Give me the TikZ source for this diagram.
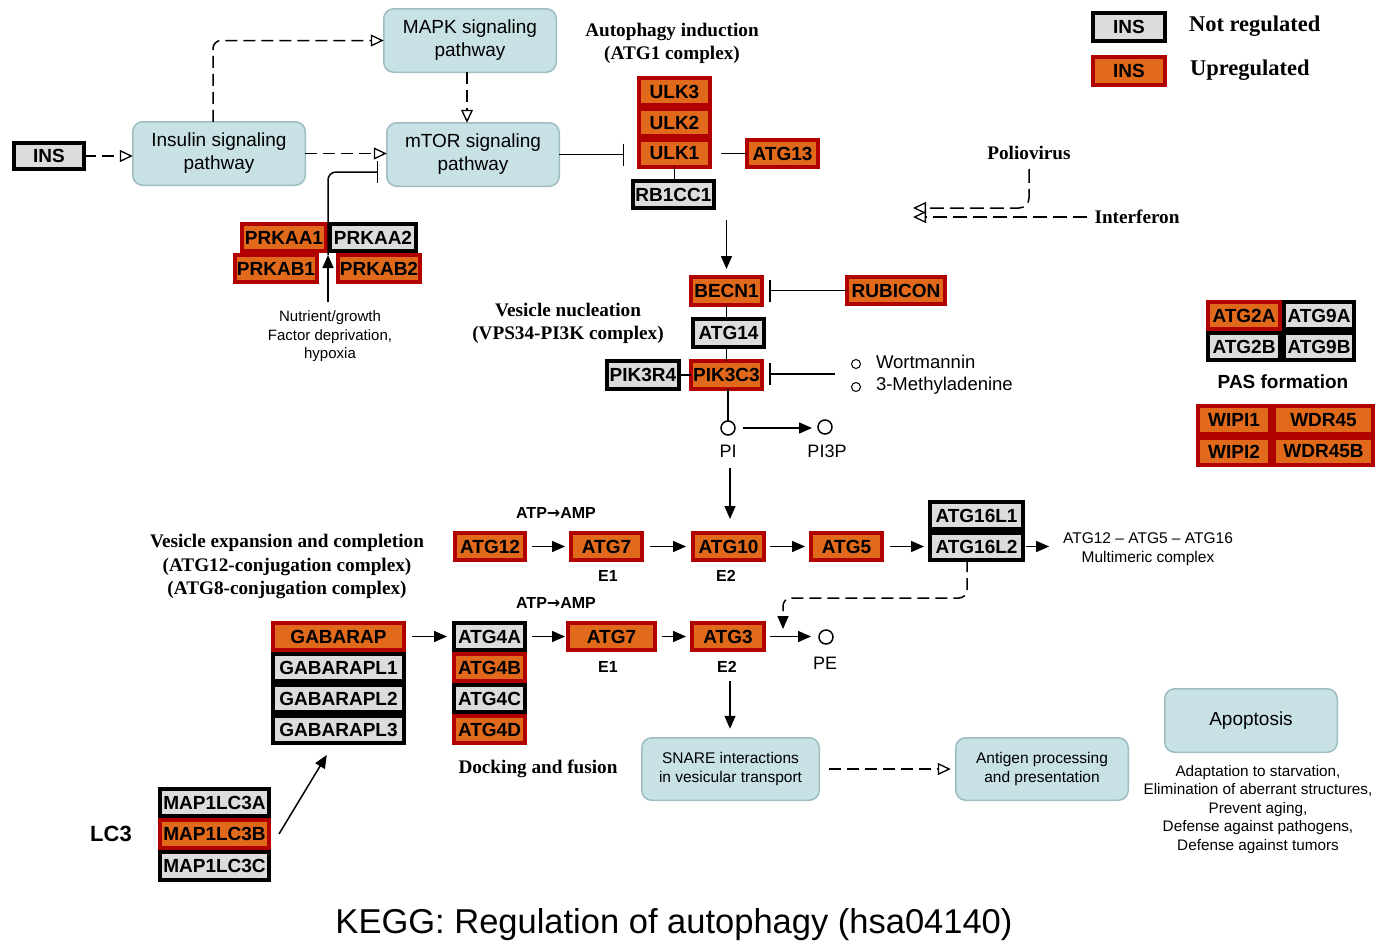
\documentclass[tikz,border=0pt]{standalone}
\usepackage{fontspec}
\setmainfont{Liberation Sans}
\newfontfamily\serbf{Liberation Serif}
\newfontfamily\dvs{DejaVu Sans}
\usetikzlibrary{arrows.meta}
\definecolor{upfill}{HTML}{E0691B}
\definecolor{updraw}{HTML}{B00000}
\definecolor{nrfill}{HTML}{DCDCDC}
\definecolor{pwfill}{HTML}{C8E1E5}
\definecolor{pwdraw}{HTML}{9DBDC2}
\newcommand\genebox[7]{\node[#1, minimum width={#5-#3-4}, minimum height={#6-#4-4}] (#2) at ({(#3+#5)/2},{(#4+#6)/2}) {#7};}
\tikzset{
  gene/.style={rectangle, inner sep=0pt, outer sep=0pt, line width=4pt, font=\bfseries\fontsize{19}{20}\selectfont},
  up/.style={gene, fill=upfill, draw=updraw},
  nr/.style={gene, fill=nrfill, draw=black},
  pw/.style={rectangle, rounded corners=10pt, fill=pwfill, draw=pwdraw, line width=1.5pt, align=center, inner sep=0pt, outer sep=0pt, font=\fontsize{19}{23}\selectfont},
  txt/.style={inner sep=0pt, outer sep=0pt, align=center},
  sertxt/.style={txt, font=\serbf\bfseries\fontsize{19.2}{23.5}\selectfont},
  ln/.style={line width=1.5pt},
  dsh/.style={dash pattern=on 12pt off 6pt},
  arr/.style={ln, -{Triangle[length=13pt,width=11pt]}},
  oarr/.style={ln, dsh, -{Triangle[open,length=13pt,width=12pt,line width=1.3pt]}},
  inh/.style={ln, -{Bar[width=22pt,line width=1.5pt]}},
  mol/.style={circle, draw, line width=1.5pt, minimum size=14pt, inner sep=0pt, outer sep=0pt},
  smallmol/.style={circle, draw, line width=1pt, minimum size=9pt, inner sep=0pt},
}
\newcommand\toarr{{\dvs\bfseries →}}
\begin{document}
\begin{tikzpicture}[x=1pt,y=-1pt]
\useasboundingbox (0,0) rectangle (1384,943);
\fill[white] (0,0) rectangle (1384,943);

% pathway boxes
\node[pw, minimum width=172.5, minimum height=63.5] (insulin) at (219,153.5) {Insulin signaling\\pathway};
\node[pw, minimum width=172.5, minimum height=63.5] (mapk) at (470,40.5) {MAPK signaling\\pathway};
\node[pw, minimum width=172.5, minimum height=63.5] (mtor) at (473,154.5) {mTOR signaling\\pathway};
\node[pw, minimum width=177.5, minimum height=62.5, font=\fontsize{15.5}{19}\selectfont] (snare) at (730.5,769) {SNARE interactions\\in vesicular transport};
\node[pw, minimum width=172.5, minimum height=62.5, font=\fontsize{15.5}{19}\selectfont] (antigen) at (1042,769) {Antigen processing\\and presentation};
\node[pw, minimum width=172.5, minimum height=63.5] (apop) at (1251,720.5) {Apoptosis};

% genes
\genebox{nr}{ins}{12}{141}{86}{171}{INS}
\genebox{up}{prkaa1}{240}{222}{328}{253}{PRKAA1}
\genebox{nr}{prkaa2}{328}{222}{418}{253}{PRKAA2}
\genebox{up}{prkab1}{233}{253}{319}{284}{PRKAB1}
\genebox{up}{prkab2}{336}{253}{422}{284}{PRKAB2}
\genebox{up}{ulk3}{637}{76}{712}{107}{ULK3}
\genebox{up}{ulk2}{637}{107}{712}{138}{ULK2}
\genebox{up}{ulk1}{637}{138}{712}{169}{ULK1}
\genebox{up}{atg13}{745}{138}{820}{169}{ATG13}
\genebox{nr}{rb1cc1}{631}{179}{716}{210}{RB1CC1}
\genebox{up}{becn1}{689}{275}{764}{307}{BECN1}
\genebox{up}{rubicon}{845}{275}{947}{306}{RUBICON}
\genebox{nr}{atg14}{691}{317}{766}{349}{ATG14}
\genebox{nr}{pik3r4}{605}{359}{681}{391}{PIK3R4}
\genebox{up}{pik3c3}{689}{359}{764}{391}{PIK3C3}
\genebox{up}{atg12}{453}{531}{527}{562}{ATG12}
\genebox{up}{atg7a}{569}{531}{644}{562}{ATG7}
\genebox{up}{atg10}{691}{531}{766}{562}{ATG10}
\genebox{up}{atg5}{809}{531}{884}{562}{ATG5}
\genebox{nr}{atg16l1}{928}{500}{1025}{531}{ATG16L1}
\genebox{nr}{atg16l2}{928}{531}{1025}{562}{ATG16L2}
\genebox{up}{gabarap}{271}{621}{406}{652}{GABARAP}
\genebox{nr}{gabarapl1}{271}{652}{406}{683}{GABARAPL1}
\genebox{nr}{gabarapl2}{271}{683}{406}{714}{GABARAPL2}
\genebox{nr}{gabarapl3}{271}{714}{406}{745}{GABARAPL3}
\genebox{nr}{atg4a}{452}{621}{527}{652}{ATG4A}
\genebox{up}{atg4b}{452}{652}{527}{683}{ATG4B}
\genebox{nr}{atg4c}{452}{683}{527}{714}{ATG4C}
\genebox{up}{atg4d}{452}{714}{527}{745}{ATG4D}
\genebox{up}{atg7b}{566}{621}{657}{652}{ATG7}
\genebox{up}{atg3}{690}{621}{766}{652}{ATG3}
\genebox{nr}{lc3a}{158}{787}{271}{818}{MAP1LC3A}
\genebox{up}{lc3b}{158}{818}{271}{850}{MAP1LC3B}
\genebox{nr}{lc3c}{158}{850}{271}{882}{MAP1LC3C}
\genebox{nr}{atg9a}{1282}{300}{1356}{331}{ATG9A}
\genebox{nr}{atg2b}{1206}{331}{1282}{362}{ATG2B}
\genebox{nr}{atg9b}{1282}{331}{1356}{362}{ATG9B}
\genebox{up}{atg2a}{1206}{300}{1282}{331}{ATG2A}
\genebox{up}{wipi1}{1196}{404}{1272}{436}{WIPI1}
\genebox{up}{wdr45}{1272}{404}{1375}{436}{WDR45}
\genebox{up}{wipi2}{1196}{436}{1272}{467}{WIPI2}
\genebox{up}{wdr45b}{1272}{436}{1375}{467}{WDR45B}
\genebox{nr}{legnr}{1091}{11}{1167}{43}{INS}
\genebox{up}{legup}{1091}{55}{1167}{87}{INS}

% text labels
\node[sertxt, font=\serbf\bfseries\fontsize{22.5}{25}\selectfont, anchor=west] (tnr) at (1189,26) {Not regulated};
\node[sertxt, font=\serbf\bfseries\fontsize{22.5}{25}\selectfont, anchor=west] (tup) at (1190,70) {Upregulated};
\node[sertxt] (tinduct) at (672,43.5) {Autophagy induction\\(ATG1 complex)};
\node[sertxt] (tnucl) at (568,323.5) {Vesicle nucleation\\(VPS34-PI3K complex)};
\node[sertxt] (texpan) at (287,566.5) {Vesicle expansion and completion\\(ATG12-conjugation complex)\\(ATG8-conjugation complex)};
\node[sertxt] (tdock) at (538,769) {Docking and fusion};
\node[sertxt] (polio) at (1029,153) {Poliovirus};
\node[sertxt] (interf) at (1137,217) {Interferon};
\node[txt, font=\fontsize{15}{18.5}\selectfont] (nut) at (330,336.5) {Nutrient/growth\\Factor deprivation,\\hypoxia};
\node[smallmol] (c1) at (856,364) {};
\node[smallmol] (c2) at (856,387) {};
\node[txt, anchor=west, font=\fontsize{18.5}{22}\selectfont] (wort) at (876,362) {Wortmannin};
\node[txt, anchor=west, font=\fontsize{18.5}{22}\selectfont] (methyl) at (876,385.5) {3-Methyladenine};
\node[mol] (pi) at (728,428) {};
\node[mol] (pi3p) at (825,427) {};
\node[mol] (pe) at (826,637) {};
\node[txt, font=\fontsize{18}{20}\selectfont] (tpi) at (728,451) {PI};
\node[txt, font=\fontsize{18}{20}\selectfont] (tpi3p) at (827,451) {PI3P};
\node[txt, font=\fontsize{18}{20}\selectfont] (tpe) at (825,663) {PE};
\node[txt, font=\bfseries\fontsize{16}{18}\selectfont] (atp1) at (556,513) {ATP\toarr AMP};
\node[txt, font=\bfseries\fontsize{16}{18}\selectfont] (atp2) at (556,603) {ATP\toarr AMP};
\node[txt, font=\bfseries\fontsize{16}{18}\selectfont] (e1a) at (608,576) {E1};
\node[txt, font=\bfseries\fontsize{16}{18}\selectfont] (e2a) at (726,576) {E2};
\node[txt, font=\bfseries\fontsize{16}{18}\selectfont] (e1b) at (608,667) {E1};
\node[txt, font=\bfseries\fontsize{16}{18}\selectfont] (e2b) at (727,667) {E2};
\node[txt, font=\fontsize{15.5}{19}\selectfont] (multi) at (1148,549.5) {ATG12 -- ATG5 -- ATG16\\Multimeric complex};
\node[txt, font=\bfseries\fontsize{19}{22}\selectfont] (pas) at (1283,382) {PAS formation};
\node[txt, font=\bfseries\fontsize{22}{24}\selectfont] (lc3) at (111,834) {LC3};
\node[txt, font=\fontsize{15.3}{18.5}\selectfont] (apnote) at (1258,809.5) {Adaptation to starvation,\\Elimination of aberrant structures,\\Prevent aging,\\Defense against pathogens,\\Defense against tumors};
\node[txt, font=\fontsize{34.5}{38}\selectfont] (title) at (674,925) {KEGG: Regulation of autophagy (hsa04140)};

% connectors - top left
\draw[oarr] (ins.east) -- (ins.east -| insulin.west);
\draw[oarr] (insulin.east) -- (insulin.east -| mtor.west);
\draw[oarr, rounded corners=8pt] ([xshift=-6pt]insulin.north) |- (mapk.west);
\draw[oarr] ([xshift=-3pt]mapk.south) -- ([xshift=-3pt]mapk.south |- mtor.north);
\coordinate (nutc) at (328,302);
\coordinate (pk) at (328,255);
\draw[arr] (nutc) -- (pk);
\draw[inh, rounded corners=8pt, shorten >=8.5pt] (pk) |- ([yshift=-17.5pt]mtor.west);
\draw[inh, shorten >=15pt] (mtor.east) -- (mtor.east -| ulk1.west);
\draw[ln, shorten <=11pt] (ulk1.east) -- (atg13.west);
\draw[ln] (ulk1.south) -- (ulk1.south |- rb1cc1.north);
\draw[arr, shorten <=12pt, shorten >=8pt] (rb1cc1.south -| becn1.north) -- (becn1.north);
\draw[inh, shorten >=7pt] (rubicon.west) -- (rubicon.west -| becn1.east);
\draw[ln] (becn1.south) -- (becn1.south |- atg14.north);
\draw[ln] (becn1.south |- atg14.south) -- (becn1.south |- pik3c3.north);
\draw[ln] (pik3r4.east) -- (pik3c3.west);
\coordinate (wortc) at (835,374);
\draw[inh, shorten >=7pt] (wortc) -- (wortc -| pik3c3.east);
\draw[ln] (pi.north |- pik3c3.south) -- (pi.north);
\draw[arr, shorten <=8pt, shorten >=13pt] (pi.east) -- (pi.east -| pi3p.center);
\draw[arr, shorten <=11pt, shorten >=14pt] ([xshift=2pt]tpi.south) -- ([xshift=2pt]tpi.south |- atg10.north);

% ATG12 conjugation
\draw[arr, shorten <=7pt, shorten >=6pt] (atg12.east) -- (atg7a.west);
\draw[arr, shorten <=8pt, shorten >=7pt] (atg7a.east) -- (atg10.west);
\draw[arr, shorten <=6pt, shorten >=6pt] (atg10.east) -- (atg5.west);
\draw[arr, shorten <=8pt, shorten >=6pt] (atg5.east) -- (atg5.east -| atg16l2.west);
\draw[arr, shorten <=3pt, shorten >=14pt] (atg16l2.east) -- (atg16l2.east -| multi.west);
\coordinate (pejoin) at (783,629);
\draw[ln, dsh, -{Triangle[length=13pt,width=11pt]}, rounded corners=8pt] ([xshift=-9.5pt]atg16l2.south) |- ([yshift=31pt]pejoin) -- (pejoin);

% ATG8 conjugation
\draw[arr, shorten <=8pt, shorten >=7pt] (gabarap.east) -- (gabarap.east -| atg4a.west);
\draw[arr, shorten <=7pt, shorten >=3pt] (atg4a.east) -- (atg7b.west);
\draw[arr, shorten <=7pt, shorten >=6pt] (atg7b.east) -- (atg3.west);
\draw[arr, shorten <=6pt, shorten >=15pt] (atg3.east) -- (atg3.east -| pe.center);
\draw[arr, shorten <=0pt, shorten >=14pt] ([xshift=10pt]lc3b.east) -- ([xshift=-4.5pt]gabarapl3.south);
\draw[arr, shorten <=31pt, shorten >=9pt] ([xshift=2pt]atg3.south) -- ([xshift=2pt]atg3.south |- snare.north);
\draw[oarr, shorten <=10pt, shorten >=5pt] (snare.east) -- (antigen.west);

% poliovirus / interferon
\coordinate (tipa) at (913,208);
\coordinate (tipb) at (913,217);
\draw[oarr, rounded corners=10pt, dash pattern=on 14pt off 6pt] ([yshift=-9pt]polio.south) |- (tipa);
\draw[oarr, dash pattern=on 14pt off 6pt, shorten <=8pt] (interf.west) -- (tipb);
\end{tikzpicture}
\end{document}
